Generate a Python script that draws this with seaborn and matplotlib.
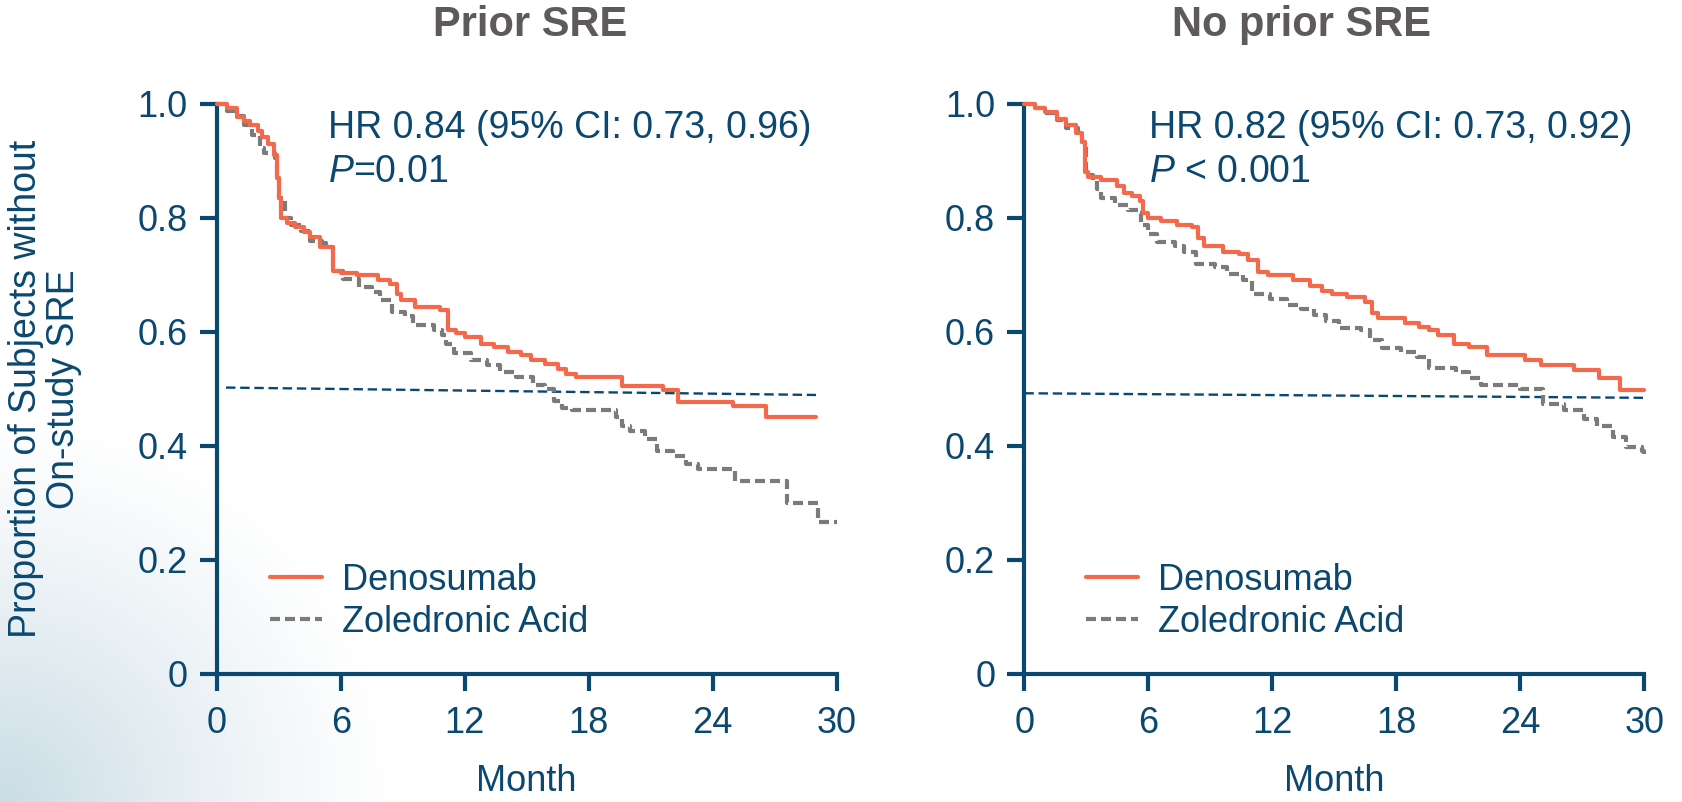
import numpy as np
import matplotlib
matplotlib.use("Agg")
import matplotlib.pyplot as plt
from matplotlib.colors import to_rgb
import seaborn as sns

# ---------------- data ----------------
panel_titles = ["Prior SRE", "No prior SRE"]
series_names = ["Denosumab", "Zoledronic Acid"]
hr_texts = ["HR 0.84 (95% CI: 0.73, 0.96)", "HR 0.82 (95% CI: 0.73, 0.92)"]
p_texts = [r"$\mathit{P}$=0.01", r"$\mathit{P}$ < 0.001"]
x_ticks = [0, 6, 12, 18, 24, 30]
y_ticks = [0, 0.2, 0.4, 0.6, 0.8, 1.0]
y_ticklabels = ["0", "0.2", "0.4", "0.6", "0.8", "1.0"]

# Prior SRE - Denosumab (month, survival) step points
prior_den_t = [0, 0.5, 1.0, 1.3, 1.6, 2.0, 2.2, 2.5, 2.75, 2.9, 3.0, 3.1, 3.4, 3.8, 4.2, 4.5,
               5.0, 5.65, 6.0, 6.8, 7.8, 8.4, 8.7, 8.9, 9.6, 10.8, 11.2, 11.6, 12.0, 12.8,
               13.4, 14.1, 14.7, 15.2, 15.9, 16.5, 16.9, 17.4, 19.6, 21.6, 22.3, 25.0, 26.6, 29.0]
prior_den_s = [1.0, 0.992, 0.977, 0.970, 0.962, 0.952, 0.942, 0.930, 0.910, 0.870, 0.835, 0.800,
               0.790, 0.783, 0.775, 0.766, 0.748, 0.707, 0.703, 0.699, 0.690, 0.684, 0.667, 0.655,
               0.643, 0.638, 0.603, 0.597, 0.591, 0.579, 0.574, 0.565, 0.559, 0.551, 0.544, 0.535,
               0.526, 0.520, 0.504, 0.497, 0.476, 0.470, 0.450, 0.450]
# Prior SRE - Zoledronic Acid
prior_zol_t = [0, 0.5, 0.9, 1.3, 1.7, 2.1, 2.3, 2.8, 2.9, 3.0, 3.3, 3.6, 4.1, 4.5, 5.1, 5.3,
               5.65, 6.1, 6.9, 7.5, 7.9, 8.5, 9.1, 9.5, 10.5, 10.9, 11.1, 11.5, 12.3, 13.1,
               13.7, 14.5, 15.3, 15.9, 16.3, 16.7, 17.2, 19.3, 19.6, 20.0, 20.7, 21.3, 22.1,
               22.7, 23.3, 25.1, 27.6, 29.1, 30.0]
prior_zol_s = [1.0, 0.988, 0.978, 0.962, 0.945, 0.922, 0.913, 0.905, 0.870, 0.835, 0.800, 0.788,
               0.777, 0.760, 0.756, 0.748, 0.707, 0.693, 0.678, 0.670, 0.655, 0.635, 0.627, 0.612,
               0.603, 0.594, 0.579, 0.562, 0.550, 0.541, 0.530, 0.520, 0.507, 0.500, 0.479, 0.466,
               0.462, 0.450, 0.435, 0.426, 0.412, 0.391, 0.382, 0.368, 0.359, 0.338, 0.300, 0.266,
               0.266]
# No prior SRE - Denosumab
noprior_den_t = [0, 0.5, 1.0, 1.6, 2.0, 2.5, 2.8, 2.95, 3.1, 3.7, 4.5, 4.8, 5.2, 5.6, 5.75, 6.0,
                 6.6, 7.4, 8.1, 8.4, 8.7, 9.6, 10.4, 10.8, 11.3, 11.8, 13.0, 13.8, 14.4, 14.9,
                 15.6, 16.5, 16.8, 17.1, 18.4, 19.1, 19.6, 20.0, 20.8, 21.5, 22.4, 24.2, 25.0,
                 26.6, 27.8, 28.8, 30.0]
noprior_den_s = [1.0, 0.993, 0.986, 0.974, 0.962, 0.948, 0.933, 0.881, 0.872, 0.867, 0.855, 0.843,
                 0.838, 0.829, 0.809, 0.800, 0.794, 0.788, 0.783, 0.765, 0.751, 0.739, 0.736, 0.725,
                 0.704, 0.699, 0.690, 0.681, 0.672, 0.667, 0.661, 0.652, 0.632, 0.624, 0.615, 0.609,
                 0.603, 0.594, 0.579, 0.574, 0.559, 0.551, 0.541, 0.532, 0.519, 0.498, 0.498]
# No prior SRE - Zoledronic Acid
noprior_zol_t = [0, 0.5, 1.0, 1.6, 2.0, 2.6, 2.8, 3.0, 3.3, 3.5, 3.7, 4.4, 5.0, 5.5, 5.65, 6.0,
                 6.4, 7.3, 7.7, 8.3, 9.2, 9.8, 10.6, 11.0, 11.9, 12.7, 13.4, 14.0, 14.6, 15.2,
                 16.3, 16.7, 17.3, 18.2, 19.0, 19.6, 20.9, 21.5, 22.1, 24.0, 25.1, 26.1, 27.1,
                 27.7, 28.5, 29.1, 29.9, 30.0]
noprior_zol_s = [1.0, 0.992, 0.983, 0.971, 0.957, 0.945, 0.933, 0.875, 0.864, 0.850, 0.835, 0.823,
                 0.814, 0.809, 0.788, 0.771, 0.757, 0.751, 0.739, 0.719, 0.713, 0.701, 0.690, 0.667,
                 0.658, 0.646, 0.640, 0.629, 0.618, 0.606, 0.603, 0.585, 0.571, 0.565, 0.556, 0.537,
                 0.529, 0.518, 0.506, 0.500, 0.474, 0.463, 0.447, 0.435, 0.415, 0.397, 0.391, 0.385]

# median reference lines (start/end points)
median_x = [[0.45, 29.0], [0.0, 30.0]]
median_y = [[0.502, 0.489], [0.492, 0.484]]

# ---------------- style ----------------
NAVY = "#0b4870"
ORANGE = "#f26a4b"
GRAY = "#7b7b7b"
TITLE_GRAY = "#5e5a5c"

sns.set_style("ticks")
plt.rcParams["font.family"] = ["Liberation Sans", "DejaVu Sans"]
plt.rcParams["mathtext.fontset"] = "custom"
plt.rcParams["mathtext.rm"] = "Liberation Sans"
plt.rcParams["mathtext.it"] = "Liberation Sans:italic"

W, H = 1682, 802
fig = plt.figure(figsize=(W / 100, H / 100), dpi=100)
fig.patch.set_facecolor("white")

# soft background gradient in the lower-left corner
bg = fig.add_axes([0, 0, 1, 1], zorder=-5)
yy, xx = np.mgrid[0:H, 0:W]
d = np.sqrt((xx / 400.0) ** 2 + ((H - 1 - yy) / 390.0) ** 2)
alpha = 0.62 * np.clip(1 - d, 0, 1) ** 1.2
img = np.zeros((H, W, 4))
img[..., :3] = to_rgb("#a9c8d5")
img[..., 3] = alpha
bg.imshow(img, aspect="auto", extent=(0, 1, 0, 1))
bg.axis("off")

ax_w, ax_h = 620 / W, 570 / H
ax_b = 1 - 673.7 / H
axes = [fig.add_axes([216.7 / W, ax_b, ax_w, ax_h]),
        fig.add_axes([1024.4 / W, ax_b, ax_w, ax_h])]

curves = [((prior_den_t, prior_den_s), (prior_zol_t, prior_zol_s)),
          ((noprior_den_t, noprior_den_s), (noprior_zol_t, noprior_zol_s))]
hr_x = [5.4, 6.05]
leg_x = [0.086, 0.099]
title_x = [530 / W, 1302 / W]

for i, ax in enumerate(axes):
    ax.set_facecolor("none")
    (dt, ds), (zt, zs) = curves[i]
    sns.lineplot(x=dt, y=ds, ax=ax, drawstyle="steps-post", color=ORANGE, linewidth=3,
                 label=series_names[0], estimator=None, sort=False, clip_on=False, zorder=4)
    sns.lineplot(x=zt, y=zs, ax=ax, drawstyle="steps-post", color=GRAY, linewidth=3,
                 linestyle=(0, (2.4, 1.2)), label=series_names[1], estimator=None,
                 sort=False, clip_on=False, zorder=3)
    sns.lineplot(x=median_x[i], y=median_y[i], ax=ax, color=NAVY, linewidth=1.7,
                 linestyle=(0, (4, 2)), estimator=None, sort=False, zorder=2)

    ax.set_xlim(0, 30)
    ax.set_ylim(0, 1)
    ax.set_xticks(x_ticks)
    ax.set_xticklabels([str(v) for v in x_ticks])
    ax.set_yticks(y_ticks)
    ax.set_yticklabels(y_ticklabels)
    for s in ["top", "right"]:
        ax.spines[s].set_visible(False)
    for s in ["left", "bottom"]:
        ax.spines[s].set_linewidth(3)
        ax.spines[s].set_color(NAVY)
    ax.tick_params(axis="both", direction="out", length=12, width=3, color=NAVY,
                   labelsize=26, labelcolor=NAVY)
    ax.tick_params(axis="y", pad=9)
    ax.tick_params(axis="x", pad=11)
    ax.set_xlabel("Month", fontsize=26, color=NAVY, labelpad=17)
    ax.set_ylabel("")

    ax.text(hr_x[i], 0.957, hr_texts[i], fontsize=27, color=NAVY, ha="left", va="center")
    ax.text(hr_x[i], 0.881, p_texts[i], fontsize=27, color=NAVY, ha="left", va="center")

    ax.legend(loc="upper left", bbox_to_anchor=(leg_x[i], 0.194), frameon=False,
              fontsize=26, handlelength=1.45, handletextpad=0.55, labelspacing=0.18,
              borderpad=0, borderaxespad=0, labelcolor=NAVY)

    fig.text(title_x[i], 1 - 25 / H, panel_titles[i], fontsize=30, fontweight="bold",
             color=TITLE_GRAY, ha="center", va="center")

fig.text(45 / W, 1 - 389 / H, "Proportion of Subjects without\nOn-study SRE", rotation=90,
         ha="center", va="center", fontsize=27, color=NAVY, linespacing=1.05)

fig.savefig("out.png", dpi=100)
